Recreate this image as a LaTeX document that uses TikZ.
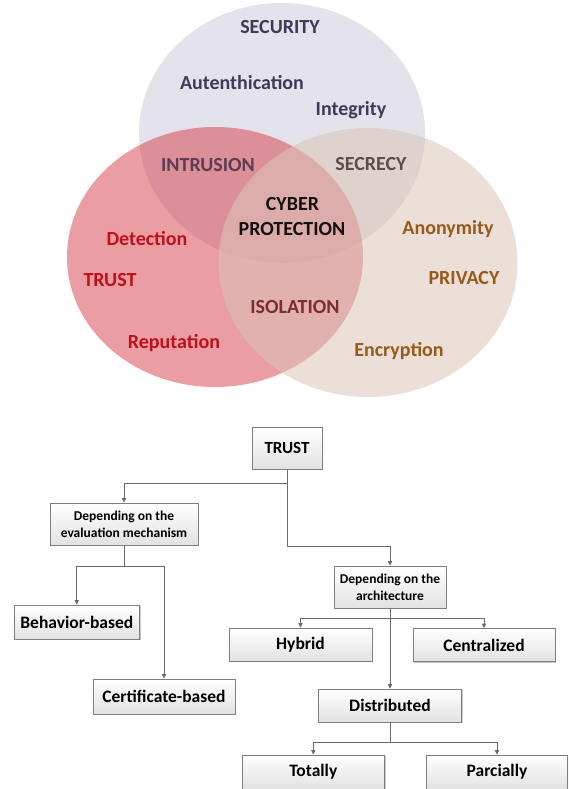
\documentclass[tikz,border=0pt]{standalone}
\usepackage{fontspec}
\setmainfont{Carlito}
\usetikzlibrary{arrows.meta,shadows}

\definecolor{secfill}{HTML}{E4E3EB}
\definecolor{trustfill}{HTML}{D63C48}
\definecolor{privfill}{HTML}{DBC5B7}
\definecolor{sectext}{HTML}{3D3A5C}
\definecolor{intrtext}{HTML}{5E3D52}
\definecolor{secrtext}{HTML}{5A4F4A}
\definecolor{trusttext}{HTML}{C0101A}
\definecolor{privtext}{HTML}{975A1A}
\definecolor{isotext}{HTML}{7D2E2A}
\definecolor{cybertext}{HTML}{141010}
\definecolor{boxline}{HTML}{7F7F7F}
\definecolor{boxbot}{HTML}{E2E2E2}
\definecolor{linegray}{HTML}{6A6A6A}

\begin{document}
\begin{tikzpicture}[x=1pt,y=-1pt,
  venn/.style={font=\bfseries\fontsize{20}{24}\selectfont, anchor=base, inner sep=0pt},
  box/.style={draw=boxline, line width=0.7pt, top color=white, bottom color=boxbot,
    drop shadow={shadow xshift=1.3pt, shadow yshift=-1.3pt, fill=black, opacity=0.22},
    inner sep=0pt, align=center, font=\bfseries\fontsize{17.5}{21}\selectfont},
  smallbox/.style={box, font=\bfseries\fontsize{13.5}{16.7}\selectfont},
  link/.style={draw=linegray, line width=0.7pt},
  arr/.style={link, -{Triangle[length=4.5pt,width=4.2pt]}}]

\useasboundingbox (0,0) rectangle (568,789);
\clip (0,0) rectangle (568,789);
\fill[white] (0,0) rectangle (568,789);

% ---------- Venn diagram ----------
\fill[secfill] (282,133) ellipse [x radius=143, y radius=130];
\fill[trustfill, opacity=0.5] (215,257) ellipse [x radius=148, y radius=130];
\fill[privfill, opacity=0.55] (368,262.5) ellipse [x radius=149.5, y radius=134.5];

\node[venn, text=sectext] (security) at (280,34) {SECURITY};
\node[venn, text=sectext] (auth) at (242,90) {Autenthication};
\node[venn, text=sectext] (integ) at (351,115.5) {Integrity};
\node[venn, text=intrtext] (intrusion) at (208,171) {INTRUSION};
\node[venn, text=secrtext] (secrecy) at (371,170.7) {SECRECY};
\node[venn, text=cybertext] (cyber) at (292.5,210.5) {CYBER};
\node[venn, text=cybertext] (protection) at (292,235) {PROTECTION};
\node[venn, text=trusttext] (detection) at (147,245) {Detection};
\node[venn, text=trusttext] (trustv) at (110,286.5) {TRUST};
\node[venn, text=trusttext] (reputation) at (174,348.5) {Reputation};
\node[venn, text=isotext] (isolation) at (295,313.3) {ISOLATION};
\node[venn, text=privtext] (anonymity) at (448,234.6) {Anonymity};
\node[venn, text=privtext] (privacy) at (464,284) {PRIVACY};
\node[venn, text=privtext] (encryption) at (399,356.5) {Encryption};

% ---------- Trust taxonomy ----------
\node[box, font=\bfseries\fontsize{17}{20}\selectfont, minimum width=70pt, minimum height=42pt] (trust) at (287,448) {TRUST};
\node[smallbox, minimum width=148pt, minimum height=42pt] (eval) at (124,524) {Depending on the\\evaluation mechanism};
\node[smallbox, minimum width=112pt, minimum height=42pt] (arch) at (390,587) {Depending on the\\architecture};
\node[box, minimum width=125pt, minimum height=34pt] (behav) at (76.8,622) {Behavior-based};
\node[box, minimum width=142pt, minimum height=35pt] (cert) at (164,696.5) {Certificate-based};
\node[box, minimum width=143pt, minimum height=33pt] (hybrid) at (300.5,644.5) {Hybrid};
\node[box, minimum width=142pt, minimum height=33pt] (central) at (484,645) {Centralized};
\node[box, minimum width=142.5pt, minimum height=33pt] (distr) at (390,705.5) {Distributed};
\node[box, minimum width=142pt, minimum height=34pt] (totally) at (313.3,772) {Totally};
\node[box, minimum width=141pt, minimum height=34pt] (parc) at (497,772) {Parcially};

\coordinate (tj) at (287,483);
\coordinate (tk) at (287,546);
\coordinate (ej) at (124,566.7);
\coordinate (aj) at (390,618.3);
\coordinate (dj) at (390,742.3);

\draw[link] (trust.south) -- (tj);
\draw[arr] (tj) -| (eval.north);
\draw[link] (tj) -- (tk);
\draw[arr] (tk) -| (arch.north);

\draw[link] (eval.south) -- (ej);
\draw[arr] (ej) -| (behav.north);
\draw[arr] (ej) -| (cert.north);

\draw[arr] (arch.south) -- (distr.north);
\draw[arr] (aj) -| (hybrid.north);
\draw[arr] (aj) -| (central.north);

\draw[link] (distr.south) -- (dj);
\draw[arr] (dj) -| (totally.north);
\draw[arr] (dj) -| (parc.north);
\end{tikzpicture}
\end{document}
